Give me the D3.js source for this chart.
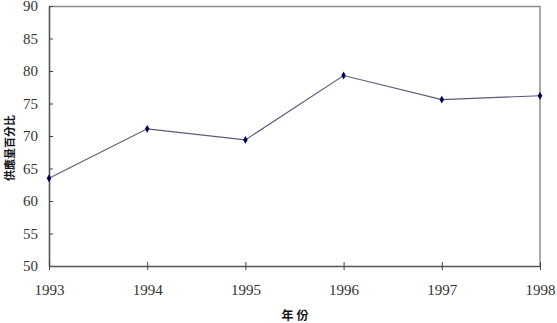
<!DOCTYPE html>
<html>
<head>
<meta charset="utf-8">
<script src="https://cdn.jsdelivr.net/npm/d3@7"></script>
<style>
  body { margin: 0; background: #fff; }
  svg { display: block; }
</style>
</head>
<body>
<svg id="chart" width="557" height="323"></svg>
<script>
const years = [1993, 1994, 1995, 1996, 1997, 1998];
const values = [63.5, 71.1, 69.4, 79.3, 75.6, 76.2];
const yTicks = [50, 55, 60, 65, 70, 75, 80, 85, 90];
const xTitle = "年份";
const yTitle = "供應量百分比";

const svg = d3.select("#chart");
const margin = { top: 6, right: 17, bottom: 57, left: 49 };
const width = +svg.attr("width");
const height = +svg.attr("height");
const plotW = width - margin.left - margin.right;
const plotH = height - margin.top - margin.bottom;

const x = d3.scaleLinear().domain([1993, 1998]).range([0, plotW]);
const y = d3.scaleLinear().domain([50, 90]).range([plotH, 0]);

const g = svg.append("g").attr("transform", `translate(${margin.left},${margin.top})`);

// frame: top and right sides lighter
g.append("line")
  .attr("x1", 0).attr("y1", 0.5).attr("x2", plotW).attr("y2", 0.5)
  .attr("stroke", "#8c8c8c").attr("stroke-width", 1.5);
g.append("line")
  .attr("x1", plotW).attr("y1", 0).attr("x2", plotW).attr("y2", plotH)
  .attr("stroke", "#8c8c8c").attr("stroke-width", 1.5);

const yAxis = g.append("g")
  .call(d3.axisLeft(y).tickValues(yTicks).tickSizeInner(4).tickSizeOuter(0).tickPadding(7));
yAxis.selectAll(".tick line").attr("x2", 4);

const xAxis = g.append("g")
  .attr("transform", `translate(0,${plotH})`)
  .call(d3.axisBottom(x).tickValues(years).tickFormat(d3.format("d"))
    .tickSizeInner(4).tickSizeOuter(0).tickPadding(14));
xAxis.selectAll(".tick line").attr("y1", -4);

[yAxis, xAxis].forEach(a => {
  a.attr("font-family", null).attr("font-size", null);
  a.select(".domain").attr("stroke", "#555").attr("stroke-width", 1.6);
  a.selectAll(".tick line").attr("stroke", "#444").attr("stroke-width", 1);
  a.selectAll(".tick text")
    .attr("fill", "#333")
    .attr("font-family", "Liberation Serif, serif")
    .attr("font-size", 15);
});

const line = d3.line()
  .x((d, i) => x(years[i]))
  .y(d => y(d));

g.append("path")
  .datum(values)
  .attr("fill", "none")
  .attr("stroke", "#5a5a7a")
  .attr("stroke-width", 1.1)
  .attr("d", line);

g.selectAll(".pt")
  .data(values)
  .enter()
  .append("path")
  .attr("class", "pt")
  .attr("transform", (d, i) => `translate(${x(years[i])},${y(d)})`)
  .attr("d", d3.symbol().type(d3.symbolDiamond).size(18))
  .attr("fill", "#000060");

svg.append("text")
  .attr("x", margin.left + plotW / 2 + 2)
  .attr("y", 320)
  .attr("text-anchor", "middle")
  .attr("font-family", "Noto Sans CJK TC, sans-serif")
  .attr("font-size", 12)
  .attr("font-weight", "bold")
  .style("letter-spacing", "3px")
  .attr("fill", "#111")
  .text(xTitle);

svg.append("text")
  .attr("transform", `translate(14,148) rotate(-90)`)
  .attr("text-anchor", "middle")
  .attr("font-family", "Noto Sans CJK TC, sans-serif")
  .attr("font-size", 11)
  .attr("font-weight", "bold")
  .attr("fill", "#111")
  .text(yTitle);
</script>
</body>
</html>
